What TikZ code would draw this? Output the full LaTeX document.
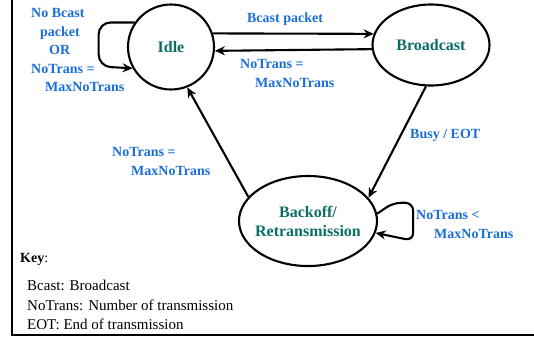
\documentclass[tikz,border=0pt]{standalone}
\usepackage{fontspec}
\setmainfont{Liberation Serif}
\usetikzlibrary{shapes.geometric,arrows.meta}
\definecolor{statetext}{RGB}{10,110,100}
\definecolor{condblue}{RGB}{25,110,215}
\tikzset{
  state/.style={ellipse,draw,line width=2.1pt,text=statetext,
    font=\bfseries\fontsize{16}{19}\selectfont,align=center,inner sep=0pt},
  cond/.style={text=condblue,font=\bfseries\fontsize{14}{18.5}\selectfont,
    align=left,inner sep=0pt},
  keytext/.style={font=\fontsize{15}{19.5}\selectfont,align=left,inner sep=0pt},
  trans/.style={line width=2.1pt,-{Stealth[length=10pt,width=9pt]}},
}
\begin{document}
\begin{tikzpicture}[x=1pt,y=-1pt]
  \useasboundingbox (0,0) rectangle (534,341);
  \draw[line width=1.4pt] (12,0) -- (12,335) -- (534,335);
  \draw
    (171,47) node[state,minimum width=86pt,minimum height=85pt] (idle){Idle}
    (431,45) node[state,minimum width=117pt,minimum height=81pt] (bcast){Broadcast}
    (308,221) node[state,inner xsep=-8pt,minimum width=138pt,minimum height=90pt] (backoff){Backoff/\\Retransmission};
  \node[cond,anchor=north west] (idleloop) at (31,8.5)
    {No Bcast\\\hspace*{9pt}packet\\\hspace*{18pt}OR\\NoTrans =\\\hspace*{14pt}MaxNoTrans};
  \node[cond,anchor=base] (sendpkt) at (285,22) {Bcast packet};
  \node[cond,anchor=north west] (maxback) at (240,59.5) {NoTrans =\\\hspace*{15pt}MaxNoTrans};
  \node[cond,anchor=north west] (maxretry) at (112,147.5) {NoTrans =\\\hspace*{19pt}MaxNoTrans};
  \node[cond,anchor=base west] (busy) at (410,138) {Busy / EOT};
  \node[cond,anchor=north west] (retry) at (416,210.5) {NoTrans <\\\hspace*{18pt}MaxNoTrans};
  \node[keytext,anchor=base west,font=\fontsize{14}{17}\selectfont] (key) at (20,262) {\textbf{Key}:};
  \node[keytext,anchor=north west] (keylist) at (27,280)
    {Bcast: Broadcast\\NoTrans: Number of transmission\\EOT: End of transmission};
  \begin{scope}[trans]
    \draw (idle.18) to (bcast.169);
    \draw (bcast.184) to (idle.-5);
    \draw (bcast.263) to (backoff.21);
    \draw (backoff.158) to (idle.292);
    \draw[rounded corners=12pt] (idle.146) -| ++(-36,44) -- (idle.209);
    \draw[rounded corners=8pt] (backoff.6) -- ++(16,-11) -- ++(20,0) -- ++(0,38) -- (backoff.-10);
  \end{scope}
\end{tikzpicture}
\end{document}
